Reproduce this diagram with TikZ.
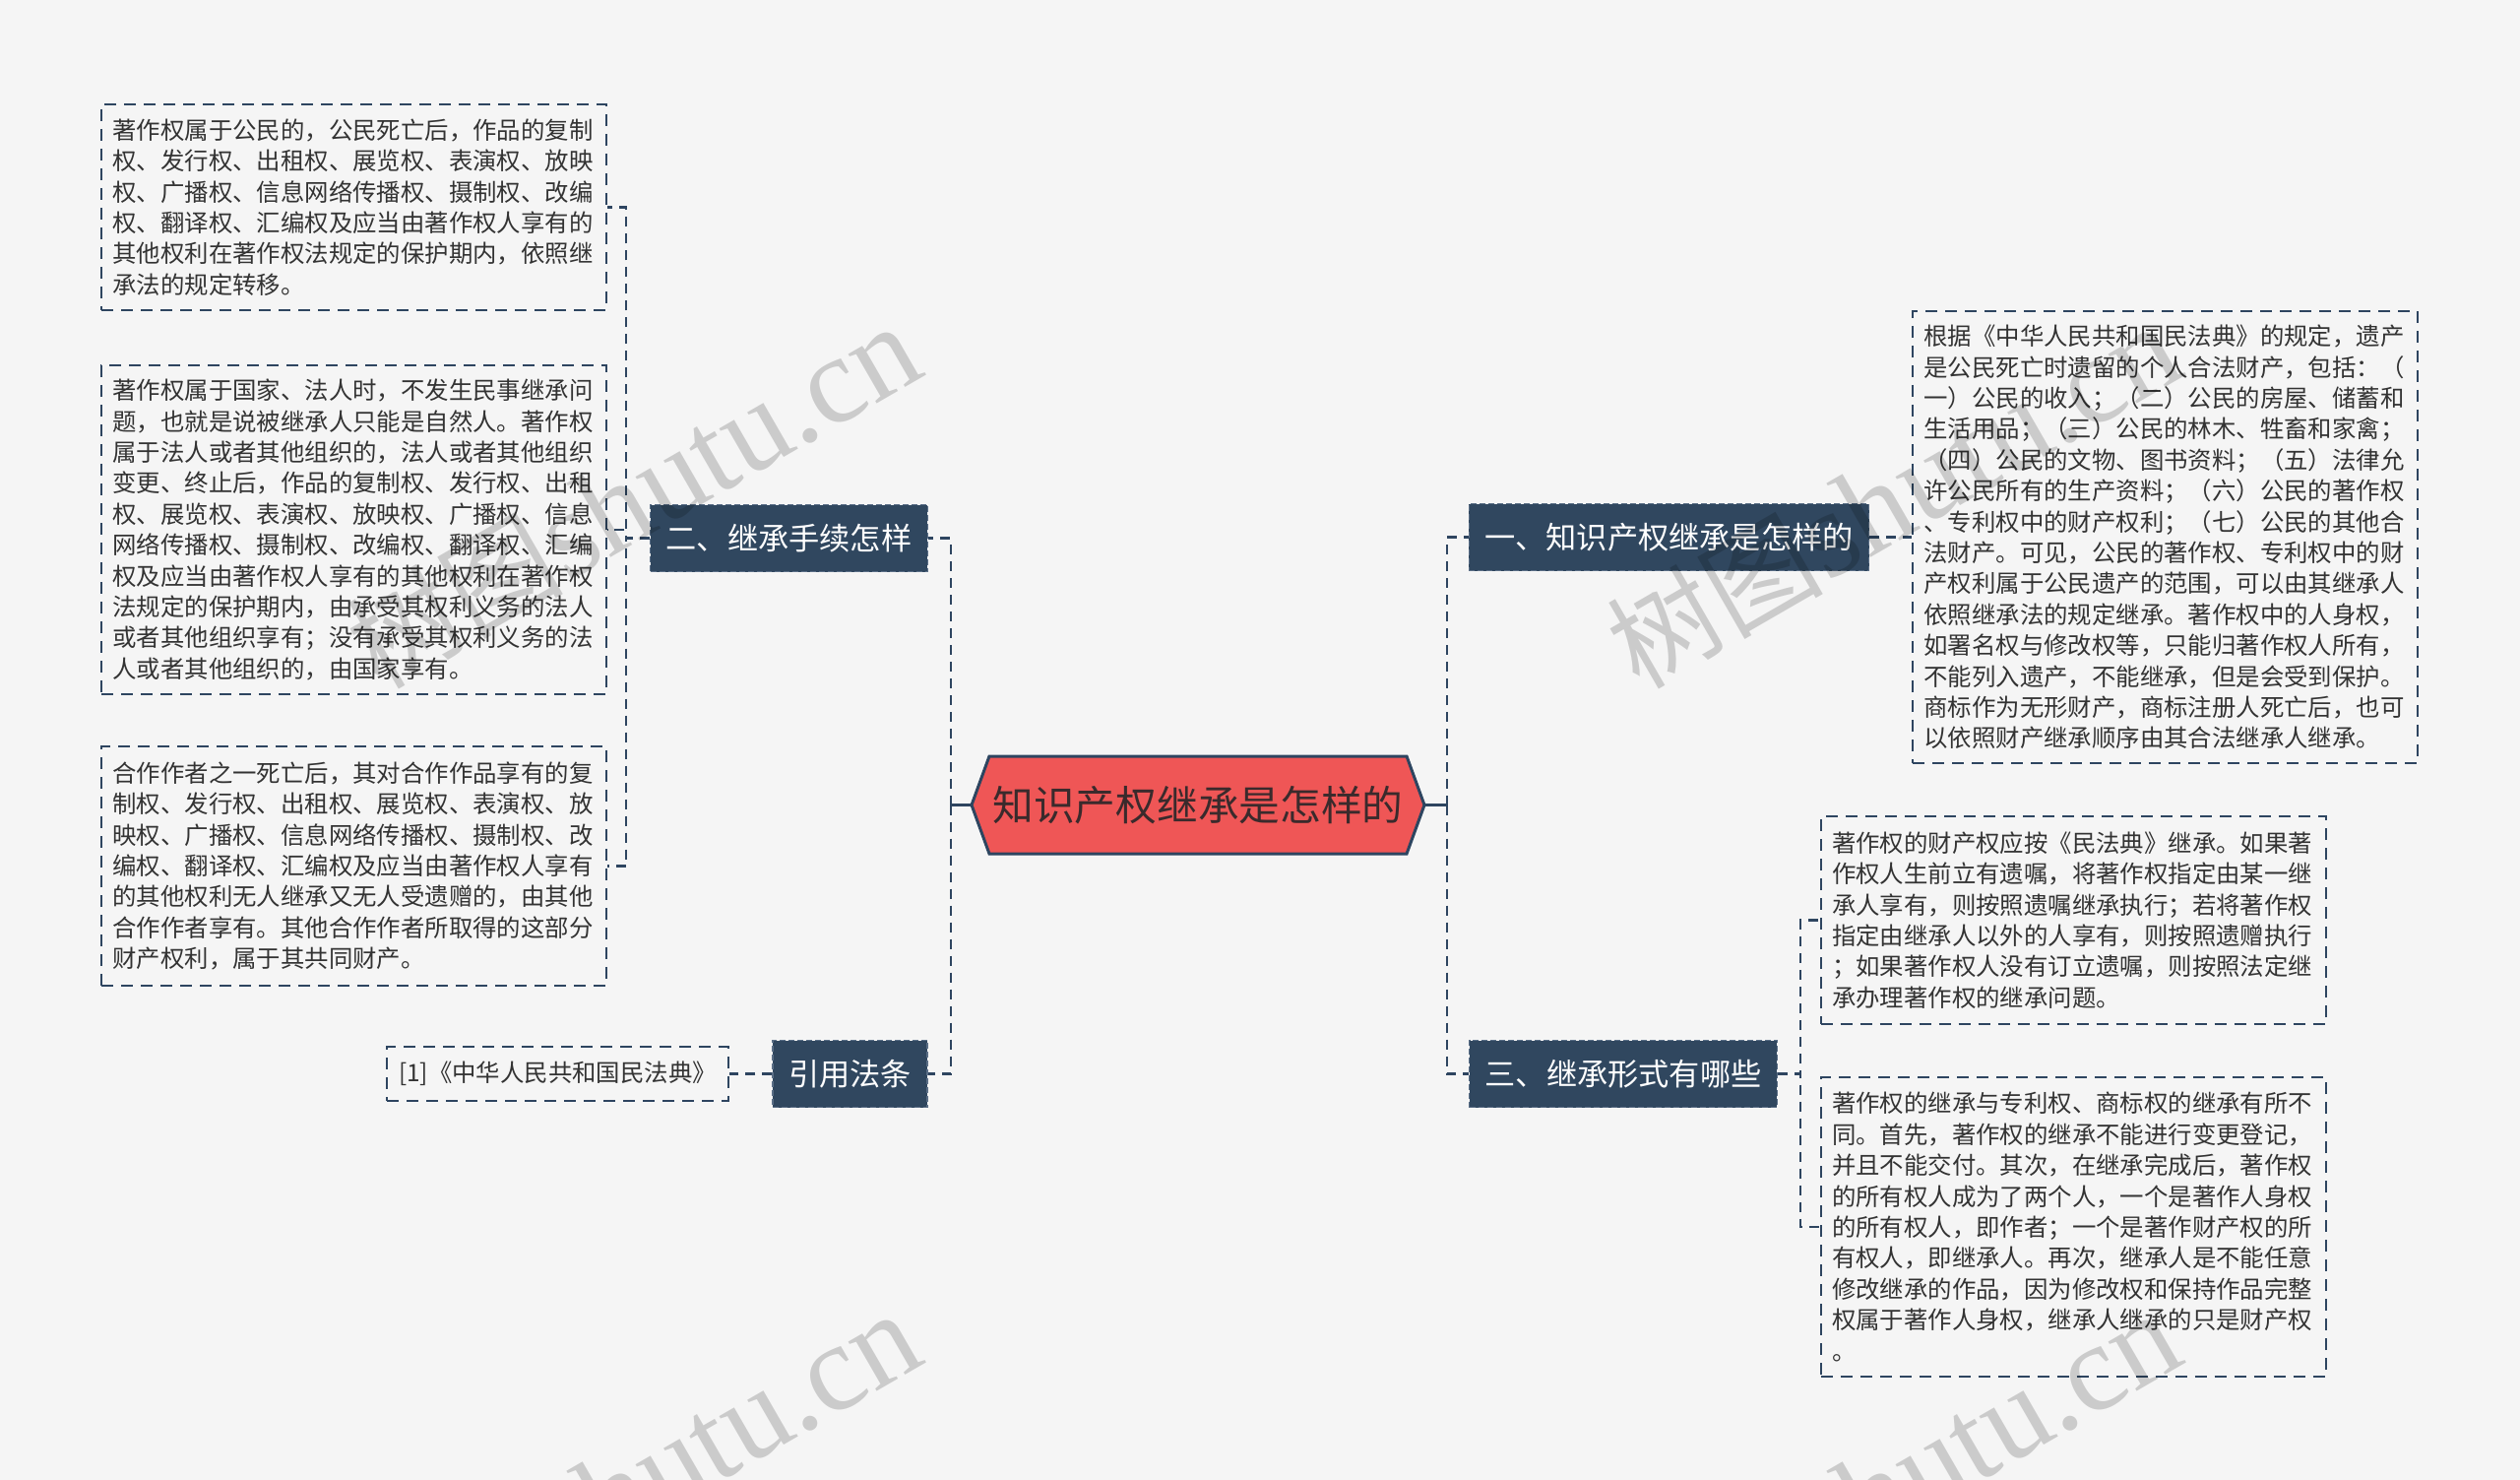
\documentclass[tikz,border=0pt]{standalone}
\usepackage{fontspec}
\setmainfont{Noto Sans CJK SC}
\newfontfamily\wmserif{Liberation Serif}
\usetikzlibrary{calc}
\definecolor{bg}{HTML}{F5F5F5}
\definecolor{navy}{HTML}{2E4560}
\definecolor{branchfill}{HTML}{30475F}
\definecolor{branchline}{HTML}{5A6E86}
\definecolor{rootfill}{HTML}{EF5656}
\definecolor{roottext}{HTML}{3A2A2C}
\definecolor{leaftext}{HTML}{333333}
\begin{document}
\begin{tikzpicture}[x=1pt,y=-1pt,
  leaf/.style={draw=navy, line width=2pt, dash pattern=on 12pt off 8pt, fill=bg,
    text=leaftext, font=\fontsize{24.4pt}{31.4pt}\selectfont, align=left,
    text width=490pt, inner xsep=11.5pt, inner ysep=0pt},
  refbox/.style={draw=navy, line width=2pt, dash pattern=on 12pt off 8pt, fill=bg,
    text=leaftext, font=\fontsize{24.4pt}{31.4pt}\selectfont, inner xsep=12pt,
    inner ysep=0pt, minimum height=55pt},
  branch/.style={fill=branchfill, draw=branchline, line width=1.5pt,
    dash pattern=on 6pt off 3pt, text=white, font=\fontsize{31.2pt}{36pt}\selectfont,
    inner xsep=16pt, inner ysep=0pt, minimum height=68pt},
  conn/.style={draw=navy, line width=2.5pt, dash pattern=on 10pt off 7pt},
  stub/.style={draw=navy, line width=2.5pt},
  wm/.style={rotate=30, anchor=base east, inner sep=0pt, text=black, text opacity=0.17}
]
\fill[bg] (0,0) rectangle (2560,1503);
\useasboundingbox (0,0) rectangle (2560,1503);

% root hexagon
\coordinate (rootC) at (1217,817.5);
\filldraw[fill=rootfill, draw=navy, line width=3pt, line join=miter]
  ($(rootC)+(-230,0)$) -- ($(rootC)+(-212,-49.5)$) -- ($(rootC)+(212,-49.5)$)
  -- ($(rootC)+(230,0)$) -- ($(rootC)+(212,49.5)$) -- ($(rootC)+(-212,49.5)$) -- cycle;
\node[font=\fontsize{41.7pt}{48pt}\selectfont, text=roottext, minimum width=460pt,
  minimum height=99pt, inner sep=0pt] (root) at (rootC) {知识产权继承是怎样的};

% branches
\node[branch] (b2) at (801.5,546.5) {二、继承手续怎样};
\node[branch] (bref) at (863.5,1090.5) {引用法条};
\node[branch] (b1) at (1695.5,545.5) {一、知识产权继承是怎样的};
\node[branch] (b3) at (1649,1090.5) {三、继承形式有哪些};

% left leaves
\node[leaf, minimum height=209pt] (l1) at (359.5,210.5) {著作权属于公民的，公民死亡后，作品的复制\\
权、发行权、出租权、展览权、表演权、放映\\
权、广播权、信息网络传播权、摄制权、改编\\
权、翻译权、汇编权及应当由著作权人享有的\\
其他权利在著作权法规定的保护期内，依照继\\
承法的规定转移。};
\node[leaf, minimum height=334pt] (l2) at (359.5,538) {著作权属于国家、法人时，不发生民事继承问\\
题，也就是说被继承人只能是自然人。著作权\\
属于法人或者其他组织的，法人或者其他组织\\
变更、终止后，作品的复制权、发行权、出租\\
权、展览权、表演权、放映权、广播权、信息\\
网络传播权、摄制权、改编权、翻译权、汇编\\
权及应当由著作权人享有的其他权利在著作权\\
法规定的保护期内，由承受其权利义务的法人\\
或者其他组织享有；没有承受其权利义务的法\\
人或者其他组织的，由国家享有。};
\node[leaf, minimum height=243pt] (l3) at (359.5,879.5) {合作作者之一死亡后，其对合作作品享有的复\\
制权、发行权、出租权、展览权、表演权、放\\
映权、广播权、信息网络传播权、摄制权、改\\
编权、翻译权、汇编权及应当由著作权人享有\\
的其他权利无人继承又无人受遗赠的，由其他\\
合作作者享有。其他合作作者所取得的这部分\\
财产权利，属于其共同财产。};
\node[refbox] (ref) at (566.5,1090.5) {[1]《中华人民共和国民法典》};

% right leaves
\node[leaf, minimum height=459pt] (r1) at (2199.5,545.5) {根据《中华人民共和国民法典》的规定，遗产\\
是公民死亡时遗留的个人合法财产，包括：（\\
一）公民的收入；（二）公民的房屋、储蓄和\\
生活用品；（三）公民的林木、牲畜和家禽；\\
（四）公民的文物、图书资料；（五）法律允\\
许公民所有的生产资料；（六）公民的著作权\\
、专利权中的财产权利；（七）公民的其他合\\
法财产。可见，公民的著作权、专利权中的财\\
产权利属于公民遗产的范围，可以由其继承人\\
依照继承法的规定继承。著作权中的人身权，\\
如署名权与修改权等，只能归著作权人所有，\\
不能列入遗产，不能继承，但是会受到保护。\\
商标作为无形财产，商标注册人死亡后，也可\\
以依照财产继承顺序由其合法继承人继承。};
\node[leaf, minimum height=211pt] (r2) at (2106,934.5) {著作权的财产权应按《民法典》继承。如果著\\
作权人生前立有遗嘱，将著作权指定由某一继\\
承人享有，则按照遗嘱继承执行；若将著作权\\
指定由继承人以外的人享有，则按照遗赠执行\\
；如果著作权人没有订立遗嘱，则按照法定继\\
承办理著作权的继承问题。};
\node[leaf, minimum height=304pt] (r3) at (2106,1246) {著作权的继承与专利权、商标权的继承有所不\\
同。首先，著作权的继承不能进行变更登记，\\
并且不能交付。其次，在继承完成后，著作权\\
的所有权人成为了两个人，一个是著作人身权\\
的所有权人，即作者；一个是著作财产权的所\\
有权人，即继承人。再次，继承人是不能任意\\
修改继承的作品，因为修改权和保持作品完整\\
权属于著作人身权，继承人继承的只是财产权\\
。};

% connectors
\draw[stub] (root.west) -- ++(-21,0) coordinate (jl);
\draw[stub] (root.east) -- ++(23,0) coordinate (jr);
\draw[conn] (jl) |- (b2.east);
\draw[conn] (jl) |- (bref.east);
\draw[conn] (jr) |- (b1.west);
\draw[conn] (jr) |- (b3.west);
\draw[conn] (b2.west) -- ++(-24,0) |- (l1.east);
\draw[conn] (b2.west) -- ++(-24,0) |- (l2.east);
\draw[conn] (b2.west) -- ++(-24,0) |- (l3.east);
\draw[conn] (bref.west) -- (ref.east);
\draw[conn] (b1.east) -- (r1.west);
\draw[conn] (b3.east) -- ++(23,0) |- (r2.west);
\draw[conn] (b3.east) -- ++(23,0) |- (r3.west);

% watermarks
\node[wm] (wm1) at (943,380) {{\fontsize{110pt}{110pt}\selectfont 树图}{\wmserif\fontsize{126pt}{126pt}\selectfont shutu.cn}};
\node[wm] (wm2) at (2223,380) {{\fontsize{110pt}{110pt}\selectfont 树图}{\wmserif\fontsize{126pt}{126pt}\selectfont shutu.cn}};
\node[wm] (wm3) at (943,1383) {{\fontsize{110pt}{110pt}\selectfont 树图}{\wmserif\fontsize{126pt}{126pt}\selectfont shutu.cn}};
\node[wm] (wm4) at (2223,1383) {{\fontsize{110pt}{110pt}\selectfont 树图}{\wmserif\fontsize{126pt}{126pt}\selectfont shutu.cn}};
\end{tikzpicture}
\end{document}
